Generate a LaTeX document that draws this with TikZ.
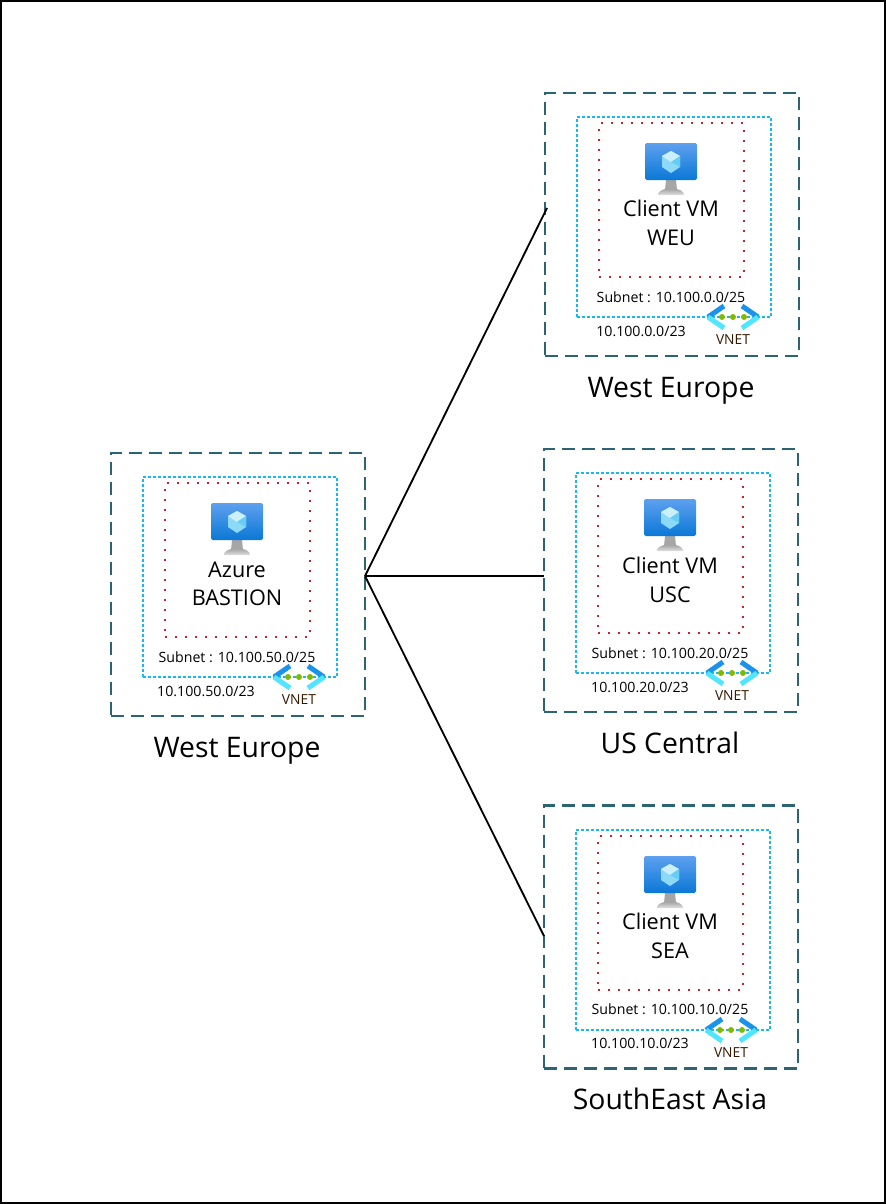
\documentclass[tikz,border=0pt]{standalone}
\usepackage{fontspec}
\setmainfont{Open Sans}
\definecolor{vnetDash}{HTML}{2B6473}
\definecolor{subnetDot}{HTML}{1AB8F2}
\definecolor{vmDot}{HTML}{D0202E}
\definecolor{screenTop}{HTML}{5EA0EF}
\definecolor{screenBot}{HTML}{0A78D6}
\definecolor{chevDark}{HTML}{1B93EB}
\definecolor{chevLight}{HTML}{50E6FF}
\definecolor{dotGreen}{HTML}{7FBA00}
\tikzset{
  vnetbox/.style={draw=vnetDash,line width=1.4pt,dash pattern=on 8pt off 4pt,minimum width=152.4pt,minimum height=157.8pt,inner sep=0pt},
  subnetbox/.style={draw=subnetDot,line width=1.3pt,dash pattern=on 1.8pt off 1.2pt,minimum width=116.4pt,minimum height=120pt,inner sep=0pt},
  vmbox/.style={draw=vmDot,line width=1.1pt,dash pattern=on 1.1pt off 4.9pt,minimum width=87pt,minimum height=92.4pt,inner sep=0pt},
  vmlabel/.style={font=\fontsize{13pt}{17pt}\selectfont,align=center,inner sep=0pt},
  sitelabel/.style={font=\fontsize{17pt}{20pt}\selectfont,inner sep=0pt,anchor=base},
  netlabel/.style={font=\fontsize{8.5pt}{10pt}\selectfont,inner sep=0pt},
  vnetlabel/.style={font=\fontsize{8.3pt}{10pt}\selectfont,text=black!80!orange,inner sep=0pt},
  vmicon/.pic={
    % Stand
    \fill[black!35] (-5,37) -- (5,37) -- (6,47) -- (-6,47) -- cycle;
    \shade[top color=black!35,bottom color=black!12] (-6,46) -- (6,46) .. controls (10,47) and (13,49) .. (13,52) -- (-13,52) .. controls (-13,49) and (-10,47) .. (-6,46) -- cycle;
    % Screen
    \shade[top color=screenTop,bottom color=screenBot,rounded corners=1pt] (-26,0) rectangle (26,37);
    % Cube
    \fill[cyan!45!white] (0,8) -- (9,13) -- (9,24) -- (0,30) -- (-9,24) -- (-9,13) -- cycle;
    \fill[cyan!20!white] (0,8) -- (9,13) -- (0,19) -- (-9,13) -- cycle;
    \fill[cyan!60!white] (0,19) -- (9,13) -- (9,24) -- cycle;
  },
  vneticon/.pic={
    \draw[chevDark,line width=3pt] (-9,-11) -- (-25,0);
    \draw[chevLight,line width=3pt] (-25,0) -- (-9,11);
    \draw[chevDark,line width=3pt] (9,-11) -- (25,0);
    \draw[chevLight,line width=3pt] (25,0) -- (9,11);
    \fill[dotGreen] (-11,0) circle (3) (0,0) circle (3) (11,0) circle (3);
  }
}
\begin{document}
\begin{tikzpicture}[x=0.6pt,y=-0.6pt]
    \useasboundingbox (0,0) rectangle (886,1204);
    % Cornice
    \draw[black,line width=0.9pt] (1,1) rectangle (885,1203);

    % Bastion
    \node[vnetbox] (bastionVnet) at (238,584.5) {};
    \node[subnetbox] (bastionSubnet) at (240,577) {};
    \node[vmbox] (bastionVm) at (237.5,560) {};
    \pic at (237,503) {vmicon};
    \node[vmlabel] (bastionText) at (237,584) {Azure\\BASTION};
    \node[netlabel] (bastionSubnetText) at (237,657) {Subnet : 10.100.50.0/25};
    \node[netlabel] (bastionRange) at (206,691) {10.100.50.0/23};
    \pic at (299,677) {vneticon};
    \node[vnetlabel] (bastionVnetText) at (299,700) {VNET};
    \node[sitelabel] (bastionSite) at (237,757) {West Europe};

    % Client WEU
    \node[vnetbox] (weuVnet) at (672,224.5) {};
    \node[subnetbox] (weuSubnet) at (674,217) {};
    \node[vmbox] (weuVm) at (671.5,200) {};
    \pic at (671,143) {vmicon};
    \node[vmlabel] (weuText) at (671,223) {Client VM\\WEU};
    \node[netlabel] (weuSubnetText) at (671,297) {Subnet : 10.100.0.0/25};
    \node[netlabel] (weuRange) at (641,331) {10.100.0.0/23};
    \pic at (733,317) {vneticon};
    \node[vnetlabel] (weuVnetText) at (733,340) {VNET};
    \node[sitelabel] (weuSite) at (671,397) {West Europe};

    % Client USC
    \node[vnetbox] (uscVnet) at (671,580.5) {};
    \node[subnetbox] (uscSubnet) at (673,573) {};
    \node[vmbox] (uscVm) at (670.5,556) {};
    \pic at (670,499) {vmicon};
    \node[vmlabel] (uscText) at (670,580) {Client VM\\USC};
    \node[netlabel] (uscSubnetText) at (670,653) {Subnet : 10.100.20.0/25};
    \node[netlabel] (uscRange) at (640,687) {10.100.20.0/23};
    \pic at (732,673) {vneticon};
    \node[vnetlabel] (uscVnetText) at (732,696) {VNET};
    \node[sitelabel] (uscSite) at (670,753) {US Central};

    % Client SEA
    \node[vnetbox] (seaVnet) at (671,937) {};
    \node[subnetbox] (seaSubnet) at (673,930) {};
    \node[vmbox] (seaVm) at (670.5,913) {};
    \pic at (670,856) {vmicon};
    \node[vmlabel] (seaText) at (670,936) {Client VM\\SEA};
    \node[netlabel] (seaSubnetText) at (670,1009) {Subnet : 10.100.10.0/25};
    \node[netlabel] (seaRange) at (640,1043) {10.100.10.0/23};
    \pic at (731,1030) {vneticon};
    \node[vnetlabel] (seaVnetText) at (731,1053) {VNET};
    \node[sitelabel] (seaSite) at (670,1109) {SouthEast Asia};

    % Collegamenti
    \coordinate (hub) at (365,576);
    \coordinate (weuEnd) at (547,208);
    \coordinate (uscEnd) at (544,576);
    \coordinate (seaEnd) at (544,936);
    \draw[line width=1.1pt] (hub) -- (weuEnd);
    \draw[line width=1.1pt] (hub) -- (uscEnd);
    \draw[line width=1.1pt] (hub) -- (seaEnd);
\end{tikzpicture}
\end{document}
